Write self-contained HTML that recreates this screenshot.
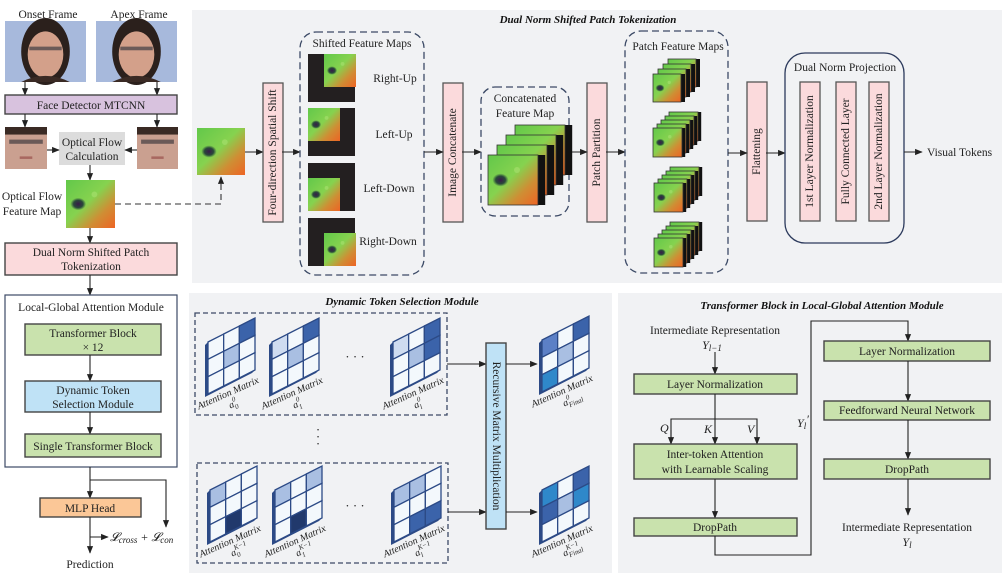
<!DOCTYPE html>
<html><head><meta charset="utf-8">
<style>
html,body{margin:0;padding:0;background:#fff;}
svg{display:block;font-family:"Liberation Serif",serif;}
.t{font-size:11.5px;fill:#222;}
.ttl{font-size:11px;font-weight:bold;font-style:italic;fill:#111;}
.bx{stroke:#444;stroke-width:1.4;}
.ln{stroke:#222;stroke-width:1.1;fill:none;}
</style></head>
<body>
<svg id="fig" width="1005" height="576" viewBox="0 0 1005 576" xmlns="http://www.w3.org/2000/svg">
<defs>
<marker id="ar" viewBox="0 0 10 10" refX="9" refY="5" markerWidth="7" markerHeight="7" orient="auto"><path d="M0,1 L10,5 L0,9 z" fill="#222"/></marker>
<linearGradient id="fg" x1="0" y1="0" x2="1" y2="1">
<stop offset="0" stop-color="#62c84a"/><stop offset="0.45" stop-color="#86d24f"/><stop offset="0.72" stop-color="#cf8e34"/><stop offset="1" stop-color="#ee6424"/>
</linearGradient>
<radialGradient id="blob"><stop offset="0" stop-color="#3a1a4a"/><stop offset="0.6" stop-color="#203838" stop-opacity="0.9"/><stop offset="1" stop-color="#203838" stop-opacity="0"/></radialGradient>
</defs>

<rect x="192" y="10" width="810" height="273" fill="#f1f2f4"/>
<rect x="189" y="293" width="423" height="280" fill="#f1f2f4"/>
<rect x="618" y="293" width="384" height="280" fill="#f1f2f4"/>

<text class="ttl" x="588" y="23" text-anchor="middle">Dual Norm Shifted Patch Tokenization</text>
<text class="ttl" x="402" y="305" text-anchor="middle">Dynamic Token Selection Module</text>
<text class="ttl" x="822" y="309" text-anchor="middle">Transformer Block in Local-Global  Attention Module</text>

<text class="t" x="48" y="18" text-anchor="middle">Onset Frame</text>
<text class="t" x="139" y="18" text-anchor="middle">Apex Frame</text>
<g id="faces"></g>
<line class="ln" x1="25" y1="82" x2="25" y2="95" marker-end="url(#ar)"/>
<line class="ln" x1="157" y1="82" x2="157" y2="95" marker-end="url(#ar)"/>
<rect class="bx" x="5" y="95" width="172" height="19" fill="#d8c2de"/>
<text class="t" x="91" y="109" text-anchor="middle">Face Detector MTCNN</text>
<line class="ln" x1="25" y1="114" x2="25" y2="127" marker-end="url(#ar)"/>
<line class="ln" x1="157" y1="114" x2="157" y2="127" marker-end="url(#ar)"/>
<rect x="59" y="132" width="66" height="33" fill="#dcdcdc"/>
<text class="t" x="92" y="146" text-anchor="middle">Optical Flow</text>
<text class="t" x="92" y="160" text-anchor="middle">Calculation</text>
<line class="ln" x1="47" y1="150" x2="59" y2="150" marker-end="url(#ar)"/>
<line class="ln" x1="137" y1="150" x2="125" y2="150" marker-end="url(#ar)"/>
<line class="ln" x1="90" y1="165" x2="90" y2="180" marker-end="url(#ar)"/>
<text class="t" x="32" y="200" text-anchor="middle">Optical Flow</text>
<text class="t" x="32" y="215" text-anchor="middle">Feature Map</text>
<path d="M115,204 L221,204 L221,177" fill="none" stroke="#333" stroke-width="1.1" stroke-dasharray="6,4" marker-end="url(#ar)"/>
<line class="ln" x1="90" y1="228" x2="90" y2="243" marker-end="url(#ar)"/>
<rect class="bx" x="5" y="243" width="172" height="32" fill="#fbdadc"/>
<text class="t" x="91" y="256" text-anchor="middle">Dual Norm Shifted Patch</text>
<text class="t" x="91" y="270" text-anchor="middle">Tokenization</text>
<line class="ln" x1="90" y1="275" x2="90" y2="295" marker-end="url(#ar)"/>

<rect x="5" y="295" width="172" height="172" fill="#fff" stroke="#3c4a66" stroke-width="1.2"/>
<text class="t" x="91" y="311" text-anchor="middle">Local-Global  Attention Module</text>
<rect class="bx" x="25" y="324" width="136" height="31" fill="#c9e2ad"/>
<text class="t" x="93" y="337" text-anchor="middle">Transformer Block</text>
<text class="t" x="93" y="351" text-anchor="middle">× 12</text>
<line class="ln" x1="90" y1="355" x2="90" y2="381" marker-end="url(#ar)"/>
<rect class="bx" x="25" y="381" width="136" height="31" fill="#bfe2f6"/>
<text class="t" x="93" y="394" text-anchor="middle">Dynamic Token</text>
<text class="t" x="93" y="408" text-anchor="middle">Selection Module</text>
<line class="ln" x1="90" y1="412" x2="90" y2="434" marker-end="url(#ar)"/>
<rect class="bx" x="25" y="434" width="136" height="23" fill="#c9e2ad"/>
<text class="t" x="93" y="450" text-anchor="middle">Single Transformer Block</text>
<line class="ln" x1="90" y1="467" x2="90" y2="498" marker-end="url(#ar)"/>
<path class="ln" d="M90,480 L166,480 L166,527" marker-end="url(#ar)"/>
<rect class="bx" x="40" y="498" width="101" height="19" fill="#fbc797"/>
<text class="t" x="90" y="512" text-anchor="middle">MLP Head</text>
<line class="ln" x1="90" y1="517" x2="90" y2="553" marker-end="url(#ar)"/>
<line class="ln" x1="90" y1="537" x2="108" y2="537" marker-end="url(#ar)"/>
<text x="110" y="541" style="font-size:12px;font-style:italic;fill:#222">𝓛<tspan style="font-size:9px" dy="2">cross</tspan><tspan dy="-2"> + 𝓛</tspan><tspan style="font-size:9px" dy="2">con</tspan></text>
<text class="t" x="90" y="568" text-anchor="middle">Prediction</text>

<line class="ln" x1="245" y1="152" x2="263" y2="152" marker-end="url(#ar)"/>
<g id="vboxes"></g>
<line class="ln" x1="282" y1="152" x2="300" y2="152" marker-end="url(#ar)"/>
<rect x="300" y="32" width="124" height="243" rx="16" fill="none" stroke="#3c4a66" stroke-width="1.3" stroke-dasharray="7,4"/>
<text class="t" x="362" y="47" text-anchor="middle">Shifted Feature Maps</text>
<text class="t" x="395" y="82" text-anchor="middle">Right-Up</text>
<text class="t" x="394" y="138" text-anchor="middle">Left-Up</text>
<text class="t" x="389" y="192" text-anchor="middle">Left-Down</text>
<text class="t" x="388" y="245" text-anchor="middle">Right-Down</text>
<line class="ln" x1="424" y1="152" x2="443" y2="152" marker-end="url(#ar)"/>
<line class="ln" x1="462" y1="152" x2="481" y2="152" marker-end="url(#ar)"/>
<rect x="481" y="87" width="88" height="129" rx="14" fill="none" stroke="#3c4a66" stroke-width="1.3" stroke-dasharray="7,4"/>
<text class="t" x="525" y="102" text-anchor="middle">Concatenated</text>
<text class="t" x="525" y="117" text-anchor="middle">Feature Map</text>
<line class="ln" x1="569" y1="152" x2="587" y2="152" marker-end="url(#ar)"/>
<line class="ln" x1="606" y1="152" x2="625" y2="152" marker-end="url(#ar)"/>
<rect x="625" y="31" width="103" height="242" rx="16" fill="none" stroke="#3c4a66" stroke-width="1.3" stroke-dasharray="7,4"/>
<text class="t" x="678" y="50" text-anchor="middle">Patch Feature Maps</text>
<line class="ln" x1="728" y1="153" x2="747" y2="153" marker-end="url(#ar)"/>
<line class="ln" x1="766" y1="153" x2="785" y2="153" marker-end="url(#ar)"/>
<rect x="785" y="53" width="119" height="190" rx="20" fill="none" stroke="#2c3a5c" stroke-width="1.3"/>
<text class="t" x="845" y="71" text-anchor="middle">Dual Norm Projection</text>
<line class="ln" x1="904" y1="152" x2="922" y2="152" marker-end="url(#ar)"/>
<text class="t" x="927" y="156">Visual Tokens</text>
<g id="imgs"></g>

<rect x="195" y="313" width="252" height="102" fill="none" stroke="#3c4a66" stroke-width="1.3" stroke-dasharray="5,3"/>
<rect x="197" y="463" width="251" height="100" fill="none" stroke="#3c4a66" stroke-width="1.3" stroke-dasharray="5,3"/>
<text class="t" x="355" y="361" text-anchor="middle" style="font-size:13px">· · ·</text>
<text class="t" x="355" y="510" text-anchor="middle" style="font-size:13px">· · ·</text>
<text class="t" x="318" y="434" text-anchor="middle" style="font-size:13px">·</text>
<text class="t" x="318" y="441" text-anchor="middle" style="font-size:13px">·</text>
<text class="t" x="318" y="448" text-anchor="middle" style="font-size:13px">·</text>
<line class="ln" x1="447" y1="364" x2="486" y2="364" marker-end="url(#ar)"/>
<line class="ln" x1="448" y1="512" x2="486" y2="512" marker-end="url(#ar)"/>
<rect class="bx" x="486" y="343" width="20" height="186" fill="#bfe2f6"/>
<text class="t" transform="rotate(90 496 436)" x="496" y="436" text-anchor="middle" dominant-baseline="central">Recursive Matrix Multiplication</text>
<line class="ln" x1="506" y1="364" x2="537" y2="364" marker-end="url(#ar)"/>
<line class="ln" x1="506" y1="512" x2="537" y2="512" marker-end="url(#ar)"/>
<g id="mats"></g>

<text class="t" x="715" y="334" text-anchor="middle">Intermediate Representation</text>
<text x="712" y="349" style="font-size:12px;font-style:italic;fill:#222" text-anchor="middle">Y<tspan style="font-size:9px" dy="2">l−1</tspan></text>
<line class="ln" x1="715" y1="352" x2="715" y2="374" marker-end="url(#ar)"/>
<rect class="bx" x="634" y="374" width="163" height="20" fill="#c9e2ad"/>
<text class="t" x="715" y="388" text-anchor="middle">Layer Normalization</text>
<line class="ln" x1="715" y1="394" x2="715" y2="444" marker-end="url(#ar)"/>
<path class="ln" d="M671,444 L671,419 L757,419 L757,444" />
<line class="ln" x1="671" y1="430" x2="671" y2="444" marker-end="url(#ar)"/>
<line class="ln" x1="757" y1="430" x2="757" y2="444" marker-end="url(#ar)"/>
<text x="660" y="432" style="font-size:12px;font-style:italic;fill:#222">Q</text>
<text x="704" y="433" style="font-size:12px;font-style:italic;fill:#222">K</text>
<text x="747" y="433" style="font-size:12px;font-style:italic;fill:#222">V</text>
<rect class="bx" x="634" y="444" width="163" height="35" fill="#c9e2ad"/>
<text class="t" x="715" y="458" text-anchor="middle">Inter-token Attention</text>
<text class="t" x="715" y="473" text-anchor="middle">with Learnable Scaling</text>
<line class="ln" x1="715" y1="479" x2="715" y2="518" marker-end="url(#ar)"/>
<rect class="bx" x="634" y="518" width="163" height="18" fill="#c9e2ad"/>
<text class="t" x="715" y="531" text-anchor="middle">DropPath</text>
<path class="ln" d="M715,536 L715,555 L811,555 L811,321 L908,321 L908,341" marker-end="url(#ar)"/>
<text x="797" y="427" style="font-size:12px;font-style:italic;fill:#222">Y<tspan style="font-size:9px" dy="2">l</tspan><tspan dy="-6">′</tspan></text>
<rect class="bx" x="824" y="341" width="166" height="20" fill="#c9e2ad"/>
<text class="t" x="907" y="355" text-anchor="middle">Layer Normalization</text>
<line class="ln" x1="908" y1="361" x2="908" y2="401" marker-end="url(#ar)"/>
<rect class="bx" x="824" y="401" width="166" height="19" fill="#c9e2ad"/>
<text class="t" x="907" y="414" text-anchor="middle">Feedforward Neural Network</text>
<line class="ln" x1="908" y1="420" x2="908" y2="459" marker-end="url(#ar)"/>
<rect class="bx" x="824" y="459" width="166" height="20" fill="#c9e2ad"/>
<text class="t" x="907" y="473" text-anchor="middle">DropPath</text>
<line class="ln" x1="908" y1="479" x2="908" y2="515" marker-end="url(#ar)"/>
<text class="t" x="907" y="531" text-anchor="middle">Intermediate Representation</text>
<text x="907" y="546" style="font-size:12px;font-style:italic;fill:#222" text-anchor="middle">Y<tspan style="font-size:9px" dy="2">l</tspan></text>
</svg>

<script>
const NS = "http://www.w3.org/2000/svg";
const matNames = ["a00","a01","a0l","final0","aK0","aK1","aKl","finalK"];
const matCells = [
 ["w","w","D","w","L","w","w","w","w"],
 ["P","w","D","w","L","w","w","w","w"],
 ["P","w","D","w","L","D","w","w","w"],
 ["M","w","D","w","L","w","C","w","w"],
 ["L","w","w","w","w","w","w","N","w"],
 ["L","w","L","w","w","w","w","N","w"],
 ["L","L","w","w","w","w","w","D","D"],
 ["C","w","D","D","L","C","w","w","w"]
];
const matSup = ["0","0","0","0","K−1","K−1","K−1","K−1"];
const matSub = ["0","1","l","Final","0","1","l","Final"];
const shade = {w:"#f3f8fc",L:"#a9bfe2",P:"#cfdcf0",D:"#3b63aa",M:"#5c80c6",C:"#2f88ca",N:"#21396c"};

function mk(tag, attrs, parent){
  const el = document.createElementNS(NS, tag);
  for (const k in attrs) el.setAttribute(k, attrs[k]);
  parent.appendChild(el);
  return el;
}
function flow(parent, x, y, w, h, name){
  const g = mk("g", {}, parent);
  
  
  mk("rect", {x:x, y:y, width:w, height:h, fill:"url(#fg)"}, g);
  mk("ellipse", {cx:x+w*0.25, cy:y+h*0.5, rx:w*0.16, ry:h*0.13, fill:"url(#blob)"}, g);
  mk("circle", {cx:x+w*0.58, cy:y+h*0.3, r:w*0.06, fill:"#a8e070", opacity:0.6}, g);
  return g;
}
const fg = document.getElementById("faces");
function face(x,y,w,h,name,full){
  const g = mk("g", {}, fg);
  
  
  mk("rect", {x:x,y:y,width:w,height:h,fill: full?"#a7b9dc":"#caa090"}, g);
  if(full){
    mk("ellipse",{cx:x+w*0.5,cy:y+h*0.5,rx:w*0.3,ry:h*0.55,fill:"#2b201c"},g);
    mk("ellipse",{cx:x+w*0.5,cy:y+h*0.55,rx:w*0.22,ry:h*0.38,fill:"#d3a08a"},g);
    mk("rect",{x:x+w*0.3,y:y+h*0.42,width:w*0.4,height:h*0.06,fill:"#6b5a58"},g);
    mk("path",{d:`M${x+w*0.2},${y+h} Q${x+w*0.5},${y+h*0.8} ${x+w*0.8},${y+h}`,fill:"#3a2a24"},g);
  } else {
    mk("rect",{x:x,y:y,width:w,height:h*0.18,fill:"#3a2a24"},g);
    mk("rect",{x:x+w*0.1,y:y+h*0.3,width:w*0.8,height:h*0.1,fill:"#6b5a58"},g);
    mk("rect",{x:x+w*0.35,y:y+h*0.7,width:w*0.3,height:h*0.06,fill:"#a86860"},g);
  }
}
face(5,21,81,61,"onset-frame-image",true);
face(96,21,81,61,"apex-frame-image",true);
face(5,127,42,42,"onset-face-crop",false);
face(137,127,41,42,"apex-face-crop",false);

const im = document.getElementById("imgs");
flow(im,66,180,49,48,"optical-flow-feature-map");
flow(im,197,128,48,47,"shift-input-map");
const shifts = [[308,54,16,0],[308,108,0,0],[308,163,0,15],[308,218,16,15]];
const shiftNames = ["right-up-map","left-up-map","left-down-map","right-down-map"];
for (let i=0;i<4;i++){
  const s = shifts[i];
  const g = mk("g",{},im);
  
  
  mk("rect",{x:s[0],y:s[1],width:47,height:48,fill:"#231f20"},g);
  flow(g,s[0]+s[2],s[1]+s[3],32,33,"shifted-image");
}
function stack(x,y,w,n,dx,dy,name){
  const g = mk("g",{},im);
  
  
  for(let i=n-1;i>=0;i--){
    const lx=x+i*dx, ly=y+i*dy;
    mk("rect",{x:lx,y:ly,width:w+dx*0.8,height:w,fill:"#111"},g);
    flow(g,lx,ly,w,w,"stack-layer");
    mk("rect",{x:lx,y:ly,width:w,height:w,fill:"none",stroke:"#333","stroke-width":0.8},g);
  }
}
stack(488,155,50,4,9,-10,"concatenated-stack");
stack(653,74,28,4,5,-5,"patch-stack-1");
stack(653,128,29,5,4,-4,"patch-stack-2");
stack(654,183,29,5,4,-4,"patch-stack-3");
stack(654,238,29,5,4,-4,"patch-stack-4");

const vb = document.getElementById("vboxes");
const vboxes = [[263,83,222,"Four-direction Spatial Shift","spatial-shift-box"],[443,83,222,"Image Concatenate","image-concat-box"],[587,83,222,"Patch Partition","patch-partition-box"],[747,82,221,"Flattening","flattening-box"],[800,82,221,"1st Layer Normalization","layer-norm-1st-box"],[836,82,221,"Fully Connected Layer","fc-layer-box"],[869,82,221,"2nd Layer Normalization","layer-norm-2nd-box"]];
for (const b of vboxes){
  const g = mk("g",{},vb);
  
  
  mk("rect",{x:b[0],y:b[1],width:20,height:b[2]-b[1],fill:"#fbdadc",stroke:"#555","stroke-width":1.3},g);
  const cx=b[0]+10, cy=(b[1]+b[2])/2;
  const t = mk("text",{x:cx,y:cy,transform:`rotate(-90 ${cx} ${cy})`,"text-anchor":"middle","dominant-baseline":"central",class:"t"},g);
  t.textContent=b[3];
}

const matPos = [[208,342],[272,342],[393,342],[542,340],[210,490],[275,490],[394,490],[542,490]];
const mg = document.getElementById("mats");
const W=47,H=52,SK=24;
function P(x0,y0,u,v){return [x0+u*W, y0+v*H-u*SK];}
for (let m=0;m<matNames.length;m++){
  const [x0,y0]=matPos[m];
  const g = mk("g",{},mg);
  
  
  const a=P(x0,y0,0,0),b=P(x0,y0,0,1),c=P(x0,y0,1,1);
  mk("path",{d:`M${a[0]},${a[1]} L${a[0]-3},${a[1]+3} L${b[0]-3},${b[1]+3} L${c[0]-3},${c[1]+3} L${c[0]},${c[1]} L${b[0]},${b[1]} Z`,fill:"#2c4a86"},g);
  for (let r=0;r<3;r++) for (let q=0;q<3;q++){
    const p1=P(x0,y0,q/3,r/3),p2=P(x0,y0,(q+1)/3,r/3),p3=P(x0,y0,(q+1)/3,(r+1)/3),p4=P(x0,y0,q/3,(r+1)/3);
    const cell = mk("path",{d:`M${p1} L${p2} L${p3} L${p4} Z`,fill:shade[matCells[m][r*3+q]],stroke:"#2c4a86","stroke-width":1.3},g);
    
    
  }
  const lx=x0+W*0.45, ly=y0+H+2;
  const rot = `rotate(-24 ${lx} ${ly})`;
  const t = mk("text",{x:lx,y:ly,transform:rot,"text-anchor":"middle",style:"font-size:10px;font-style:italic;fill:#222"},g);
  t.textContent="Attention Matrix";
  const sg = mk("g",{transform:rot},g);
  
  
  const ta = mk("text",{x:lx-4,y:ly+12,style:"font-size:10px;font-style:italic;fill:#222"},sg);
  ta.textContent="a";
  const tsup = mk("text",{x:lx+1,y:ly+7,style:"font-size:7px;font-style:italic;fill:#222"},sg);
  tsup.textContent=matSup[m];
  const tsub = mk("text",{x:lx+1,y:ly+15,style:"font-size:7px;font-style:italic;fill:#222"},sg);
  tsub.textContent=matSub[m];
}
</script>
</body></html>
